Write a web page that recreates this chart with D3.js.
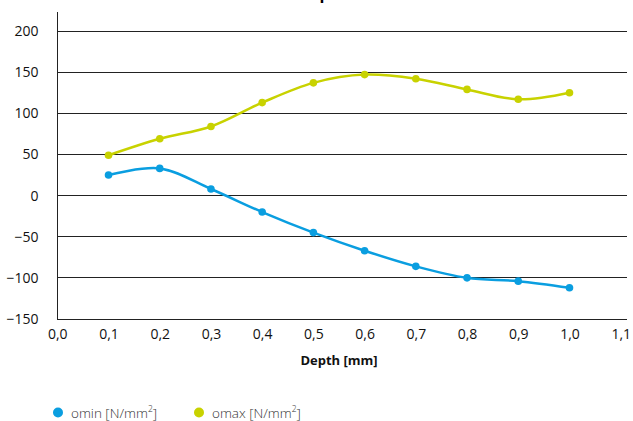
<!DOCTYPE html>
<html><head><meta charset="utf-8">
<script src="https://cdn.jsdelivr.net/npm/d3@7"></script>
<style>body{margin:0;background:#fff}svg{display:block}text{font-family:"Open Sans",sans-serif}</style>
</head><body><svg id="c" width="633" height="421"></svg>
<script>
const depth = [0.1,0.2,0.3,0.4,0.5,0.6,0.7,0.8,0.9,1.0];
const omin = [25,33,8,-20,-45,-67,-86,-100,-104,-112];
const omax = [49,69,84,113,137,147,142,129,117,125];
const xTicks = [0,0.1,0.2,0.3,0.4,0.5,0.6,0.7,0.8,0.9,1.0,1.1];
const yTicks = [-150,-100,-50,0,50,100,150,200];
const seriesNames = ["omin [N/mm", "omax [N/mm"];
const colors = ["#0a9ee0","#c8d200"];

const svg = d3.select("#c");
const x = d3.scaleLinear().domain([0,1.1]).range([57.3,620.7]);
const y = d3.scaleLinear().domain([-150,200]).range([319,31]);
const right = 627;

const title = svg.append("text").attr("x",0).attr("y",-1)
  .attr("font-weight","bold").attr("font-size",16).attr("fill","#000").text("Stress profile");
const pIdx = "Stress profile".indexOf("p");
const px = title.node().getStartPositionOfChar(pIdx).x;
title.attr("x", 319.5 - px);

// grid
svg.append("g").selectAll("line").data(yTicks).join("line")
  .attr("x1",x(0)).attr("x2",right).attr("y1",d=>y(d)).attr("y2",d=>y(d))
  .attr("stroke","#222").attr("stroke-width",1).attr("shape-rendering","crispEdges");
svg.append("line").attr("x1",x(0)).attr("x2",x(0)).attr("y1",12).attr("y2",y(-150))
  .attr("stroke","#222").attr("shape-rendering","crispEdges");

const ya = d3.axisLeft(y).tickValues(yTicks).tickSize(0).tickPadding(0);
svg.append("g").attr("transform","translate(38.5,0)").call(ya)
  .call(g=>g.select(".domain").remove())
  .selectAll("text").attr("font-size",14).attr("fill","#111").attr("font-family","Open Sans");
const xa = d3.axisBottom(x).tickValues(xTicks).tickSize(0).tickPadding(0)
  .tickFormat(d=>d3.format(".1f")(d).replace(".",","));
svg.append("g").attr("transform","translate(0,329)").call(xa)
  .call(g=>g.select(".domain").remove())
  .selectAll("text").attr("font-size",14).attr("fill","#111").attr("font-family","Open Sans");

svg.append("text").attr("x",339).attr("y",365).attr("text-anchor","middle")
  .attr("font-weight","bold").attr("font-size",13).attr("fill","#111").text("Depth [mm]");

const line = d3.line().x((d,i)=>x(depth[i])).y(d=>y(d)).curve(d3.curveCatmullRom.alpha(0.5));
[omin,omax].forEach((s,k)=>{
  svg.append("path").attr("d",line(s)).attr("fill","none").attr("stroke",colors[k]).attr("stroke-width",2.5);
  svg.append("g").selectAll("circle").data(s).join("circle")
    .attr("cx",(d,i)=>x(depth[i])).attr("cy",d=>y(d)).attr("r",3.8).attr("fill",colors[k]);
});

// legend
const lx = [58,199];
seriesNames.forEach((n,k)=>{
  svg.append("circle").attr("cx",lx[k]).attr("cy",412.5).attr("r",5).attr("fill",colors[k]);
  const t = svg.append("text").attr("x",lx[k]+13).attr("y",417.5).attr("font-size",13.5).attr("fill","#333")
    .attr("font-family","Open Sans").attr("font-weight",300);
  t.append("tspan").text(n);
  t.append("tspan").attr("font-size",8.5).attr("dy",-6).text("2");
  t.append("tspan").attr("dy",6).text("]");
});
</script></body></html>
